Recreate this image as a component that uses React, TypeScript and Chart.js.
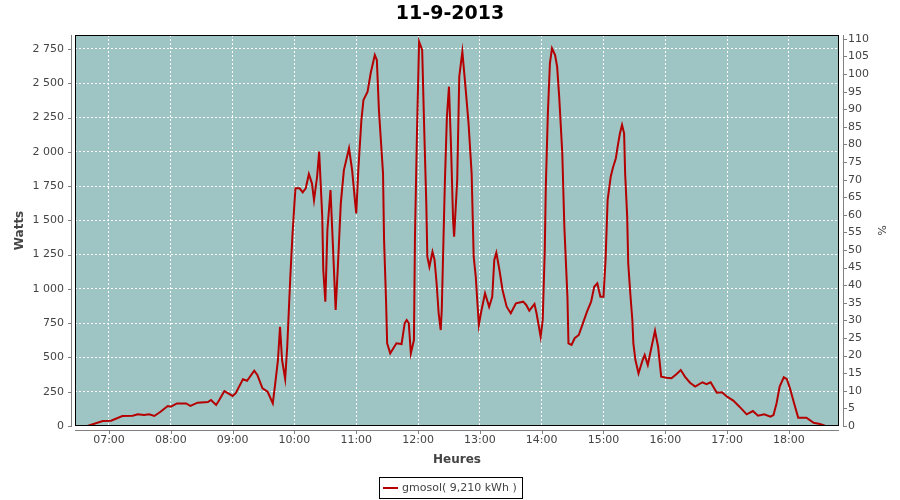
import React, { useEffect, useRef } from "react";
import { Chart, registerables } from "chart.js";

Chart.register(...registerables);

// ---------- data ----------
const chartTitle = "11-9-2013";
const seriesLabel = "gmosol( 9,210 kWh )";
const xAxisTitle = "Heures";
const yAxisTitle = "Watts";
const y2AxisTitle = "%";

// time of day in minutes since midnight
const timeMin = [
  399, 414, 422, 433, 443, 448, 454, 459, 464, 470,
  477, 480, 486, 495, 499, 506, 516, 519, 524, 527,
  532, 540, 543, 550, 554, 561, 564, 569, 574, 579,
  581, 584, 586, 588, 591, 593, 596, 598, 600, 601,
  605, 608, 611, 614, 617, 619, 622, 624, 627, 628,
  630, 632, 635, 637, 640, 642, 645, 648, 653, 656,
  659, 660, 662, 665, 667, 671, 674, 678, 680, 682,
  686, 687, 689, 690, 693, 699, 704, 707, 709, 711,
  713, 716, 717, 719, 721, 724, 726, 728, 729, 731,
  734, 736, 738, 740, 742, 743, 746, 748, 750, 752,
  754, 755, 758, 760, 763, 766, 769, 772, 774, 776,
  779, 781, 785, 789, 792, 794, 796, 799, 802, 806,
  810, 815, 822, 825, 828, 833, 835, 839, 841, 843,
  844, 846, 848, 850, 853, 855, 857, 860, 862, 865,
  866, 869, 872, 876, 880, 884, 888, 891, 894, 897,
  900, 902, 904, 907, 909, 912, 914, 916, 918, 920,
  921, 923, 924, 926, 928, 929, 931, 934, 938, 940,
  943, 946, 950, 953, 956, 961, 966, 971, 975, 979,
  984, 989, 996, 1000, 1004, 1010, 1015, 1020, 1026, 1032,
  1039, 1045, 1050, 1056, 1062, 1065, 1068, 1071, 1075, 1078,
  1081, 1085, 1089, 1094, 1097, 1104, 1110, 1115,
];

const watts = [
  0, 36, 39, 73, 75, 85, 80, 85, 73, 104,
  146, 141, 165, 165, 146, 170, 175, 190, 153, 190,
  255, 219, 239, 341, 330, 403, 372, 275, 250, 165,
  287, 481, 724, 481, 343, 578, 1089, 1381, 1624, 1734,
  1734, 1705, 1734, 1838, 1770, 1648, 1818, 2001, 1527, 1138,
  907, 1430, 1721, 1381, 846, 1138, 1624, 1867, 2026, 1867,
  1624, 1551, 1867, 2232, 2378, 2438, 2573, 2706, 2670, 2305,
  1843, 1357, 895, 603, 530, 603, 598, 749, 773, 749,
  530, 627, 1381, 2159, 2803, 2743, 2159, 1624, 1235, 1162,
  1271, 1211, 1041, 822, 700, 846, 1770, 2256, 2475, 2037,
  1503, 1381, 1794, 2548, 2730, 2475, 2208, 1843, 1235, 1089,
  737, 822, 968, 870, 943, 1211, 1264, 1138, 992, 870,
  822, 895, 907, 883, 841, 890, 822, 651, 773, 1284,
  1745, 2281, 2646, 2755, 2706, 2621, 2402, 1989, 1454, 943,
  603, 591, 640, 664, 749, 834, 907, 1016, 1041, 943,
  943, 1211, 1648, 1818, 1880, 1953, 2050, 2135, 2196, 2135,
  1843, 1527, 1187, 968, 773, 603, 481, 384, 481, 518,
  445, 554, 695, 578, 360, 352, 348, 379, 408, 360,
  316, 287, 319, 306, 319, 243, 246, 214, 185, 141,
  85, 109, 75, 85, 68, 80, 166, 287, 355, 341,
  275, 166, 61, 61, 61, 24, 15, 2,
];

const hourTickLabels = [
  "07:00", "08:00", "09:00", "10:00", "11:00", "12:00",
  "13:00", "14:00", "15:00", "16:00", "17:00", "18:00",
];
const wattTicks = [0, 250, 500, 750, 1000, 1250, 1500, 1750, 2000, 2250, 2500, 2750];
const percentTicks = [
  0, 5, 10, 15, 20, 25, 30, 35, 40, 45, 50, 55,
  60, 65, 70, 75, 80, 85, 90, 95, 100, 105, 110,
];

const xMin = 387;
const xMax = 1128.6;
const wattMax = 2852;
const percentMax = 111.1;

// ---------- style ----------
const FONT = "DejaVu Sans";
const PLOT_BG = "#9fc4c4";
const LINE_COLOR = "#b40000";
const TEXT_COLOR = "#444444";
const AXIS_COLOR = "#808080";

const toMinutes = (s: string) => {
  const [h, m] = s.split(":").map(Number);
  return h * 60 + m;
};
const fmtTime = (v: number) => {
  const h = Math.floor(v / 60);
  const m = Math.round(v - h * 60);
  return String(h).padStart(2, "0") + ":" + String(m).padStart(2, "0");
};
const fmtThousands = (v: number) =>
  String(v).replace(/\B(?=(\d{3})+(?!\d))/g, " ");

const framePlugin = {
  id: "frame",
  beforeDraw(chart: any) {
    const { ctx, chartArea: a } = chart;
    ctx.save();
    ctx.fillStyle = "#ffffff";
    ctx.fillRect(0, 0, chart.width, chart.height);
    ctx.fillStyle = PLOT_BG;
    ctx.fillRect(a.left, a.top, a.right - a.left, a.bottom - a.top);
    ctx.restore();
  },
  afterDraw(chart: any) {
    const { ctx, chartArea: a, scales } = chart;
    const L = Math.round(a.left);
    const R = Math.round(a.right);
    const T = Math.round(a.top);
    const B = Math.round(a.bottom);
    ctx.save();
    // plot border
    ctx.strokeStyle = "#000000";
    ctx.lineWidth = 1;
    ctx.strokeRect(L + 0.5, T + 0.5, R - L - 1, B - T - 1);

    // axis lines (offset from plot)
    ctx.strokeStyle = AXIS_COLOR;
    ctx.beginPath();
    // left
    ctx.moveTo(L - 3.5, T);
    ctx.lineTo(L - 3.5, B);
    for (const t of scales.y.ticks) {
      const p = Math.round(scales.y.getPixelForValue(t.value)) + 0.5;
      ctx.moveTo(L - 7, p);
      ctx.lineTo(L - 3, p);
    }
    // right
    ctx.moveTo(R + 4.5, T);
    ctx.lineTo(R + 4.5, B);
    for (const t of scales.y2.ticks) {
      const p = Math.round(scales.y2.getPixelForValue(t.value)) + 0.5;
      ctx.moveTo(R + 4, p);
      ctx.lineTo(R + 8, p);
    }
    // bottom
    ctx.moveTo(L, B + 4.5);
    ctx.lineTo(R, B + 4.5);
    for (const t of scales.x.ticks) {
      const p = Math.round(scales.x.getPixelForValue(t.value)) + 0.5;
      ctx.moveTo(p, B + 4);
      ctx.lineTo(p, B + 8);
    }
    ctx.stroke();

    // legend
    ctx.font = `11px "${FONT}"`;
    const tw = ctx.measureText(seriesLabel).width;
    const bw = Math.round(4 + 15 + 4 + tw + 5);
    const bx = Math.round(chart.width / 2 - bw / 2);
    const by = 477;
    const bh = 21;
    ctx.strokeStyle = "#000000";
    ctx.strokeRect(bx + 0.5, by + 0.5, bw, bh);
    ctx.strokeStyle = LINE_COLOR;
    ctx.lineWidth = 2;
    ctx.beginPath();
    ctx.moveTo(bx + 4, by + 11);
    ctx.lineTo(bx + 19, by + 11);
    ctx.stroke();
    ctx.fillStyle = TEXT_COLOR;
    ctx.textBaseline = "middle";
    ctx.textAlign = "left";
    ctx.fillText(seriesLabel, bx + 23, by + 11.5);
    ctx.restore();
  },
};

export default function App() {
  const canvasRef = useRef<HTMLCanvasElement | null>(null);

  useEffect(() => {
    document.body.style.margin = "0";
    const canvas = canvasRef.current;
    if (!canvas) return;

    const tickFont = { family: FONT, size: 11 };
    const axisTitleFont = { family: FONT, size: 12, weight: "bold" as const };

    const chart = new Chart(canvas, {
      type: "line",
      data: {
        datasets: [
          {
            label: seriesLabel,
            data: timeMin.map((t, i) => ({ x: t, y: watts[i] })),
            borderColor: LINE_COLOR,
            backgroundColor: LINE_COLOR,
            borderWidth: 2,
            pointRadius: 0,
            tension: 0,
            fill: false,
            yAxisID: "y",
          },
        ],
      },
      plugins: [framePlugin],
      options: {
        responsive: false,
        animation: false,
        devicePixelRatio: 1,
        layout: { padding: 0 },
        events: [],
        plugins: {
          legend: { display: false },
          tooltip: { enabled: false },
          title: {
            display: true,
            text: chartTitle,
            color: "#000000",
            font: { family: FONT, size: 19, weight: "bold" },
            padding: { top: 3, bottom: 35 - 3 - 19 * 1.2 },
          },
        },
        scales: {
          x: {
            type: "linear",
            min: xMin,
            max: xMax,
            afterBuildTicks: (s: any) => {
              s.ticks = hourTickLabels.map((l) => ({ value: toMinutes(l) }));
            },
            afterFit: (s: any) => {
              s.height = 74;
            },
            ticks: {
              callback: (v: any) => fmtTime(Number(v)),
              font: tickFont,
              color: TEXT_COLOR,
              padding: 8,
              maxRotation: 0,
              autoSkip: false,
            },
            grid: { color: "#ffffff", lineWidth: 1, drawTicks: false },
            border: { display: false, dash: [2, 2] },
            title: {
              display: true,
              text: xAxisTitle,
              color: TEXT_COLOR,
              font: axisTitleFont,
              padding: { top: 0, bottom: 33 },
            },
          },
          y: {
            type: "linear",
            position: "left",
            min: 0,
            max: wattMax,
            afterBuildTicks: (s: any) => {
              s.ticks = wattTicks.map((v) => ({ value: v }));
            },
            afterFit: (s: any) => {
              s.width = 75;
            },
            ticks: {
              callback: (v: any) => fmtThousands(Number(v)),
              font: tickFont,
              color: TEXT_COLOR,
              padding: 11,
            },
            grid: { color: "#ffffff", lineWidth: 1, drawTicks: false },
            border: { display: false, dash: [2, 2] },
            title: {
              display: true,
              text: yAxisTitle,
              color: TEXT_COLOR,
              font: axisTitleFont,
              padding: { top: 13, bottom: 0 },
            },
          },
          y2: {
            type: "linear",
            position: "right",
            min: 0,
            max: percentMax,
            afterBuildTicks: (s: any) => {
              s.ticks = percentTicks.map((v) => ({ value: v }));
            },
            afterFit: (s: any) => {
              s.width = 61;
            },
            ticks: {
              font: tickFont,
              color: TEXT_COLOR,
              padding: 9,
            },
            grid: { display: false, drawTicks: false },
            border: { display: false },
            title: {
              display: true,
              text: y2AxisTitle,
              color: TEXT_COLOR,
              font: { family: FONT, size: 11 },
              padding: { top: 13, bottom: 0 },
            },
          },
        },
      },
    });

    return () => {
      chart.destroy();
    };
  }, []);

  return (
    <div style={{ width: 900, height: 500 }}>
      <canvas ref={canvasRef} width={900} height={500} style={{ display: "block" }} />
    </div>
  );
}
